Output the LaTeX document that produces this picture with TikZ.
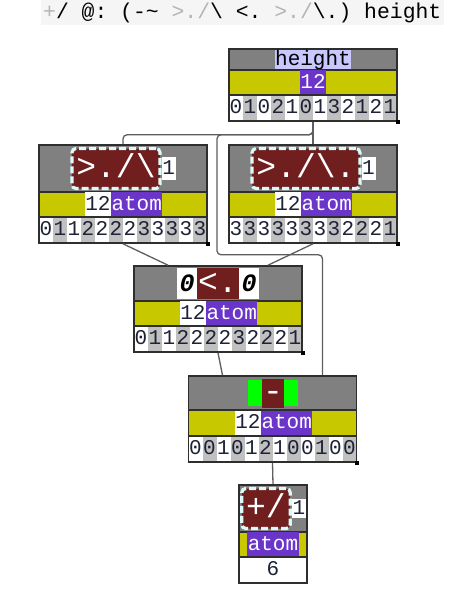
\documentclass[tikz,border=0pt]{standalone}
\usepackage{fontspec}
\setmonofont{Liberation Mono}
\usetikzlibrary{positioning}

\definecolor{rowgray}{HTML}{808080}
\definecolor{rowyellow}{HTML}{C8C800}
\definecolor{atomviolet}{HTML}{6A35C8}
\definecolor{maroon}{HTML}{701E1E}
\definecolor{lavender}{HTML}{C8C8FF}
\definecolor{stripe}{HTML}{C0C0C0}
\definecolor{dashcyan}{HTML}{DCFAFA}
\definecolor{fillgreen}{HTML}{00FF00}
\definecolor{framec}{HTML}{2E2E2E}
\definecolor{wirec}{HTML}{5E5E5E}
\definecolor{ink}{HTML}{1E2236}
\definecolor{faint}{HTML}{B4B4B4}
\definecolor{codebg}{HTML}{F5F5F5}
\colorlet{shade0}{stripe}
\colorlet{shade1}{white}

\begin{document}
\begin{tikzpicture}[x=1pt, y=-1pt,
    rowbox/.style={draw=framec, line width=1.6pt, minimum width=168, inner sep=0},
    grayrow/.style={rowbox, fill=rowgray},
    yelrow/.style={rowbox, fill=rowyellow, minimum height=25},
    digitcell/.style={minimum width=14, minimum height=26, inner sep=0, outer sep=0, text=ink,
        text height=15, text depth=4.5, font=\ttfamily\fontsize{21}{21}\selectfont},
    texttag/.style={inner xsep=0.5, inner ysep=0, outer sep=0, text=ink,
        text height=15, text depth=4, font=\ttfamily\fontsize{21}{21}\selectfont},
    numtag/.style={texttag, fill=white, minimum height=25},
    atomtag/.style={texttag, fill=atomviolet, text=white, minimum height=25},
    ranktag/.style={texttag, fill=white, minimum width=14, minimum height=23},
    verbbox/.style={fill=maroon, text=white, draw=dashcyan, line width=3.2pt,
        dash pattern=on 7pt off 3pt, rounded corners=4, inner xsep=4.4, inner ysep=0,
        minimum height=40, text height=23, text depth=6,
        font=\ttfamily\fontsize{33}{33}\selectfont},
    flatverb/.style={fill=maroon, text=white, inner sep=0, outer sep=0,
        text height=23, text depth=6, font=\ttfamily\fontsize{33}{33}\selectfont},
    zerotag/.style={fill=white, text=black, inner sep=0, outer sep=0, minimum width=20,
        minimum height=31, font=\ttfamily\bfseries\itshape\fontsize{25}{25}\selectfont},
    greentag/.style={fill=fillgreen, minimum width=14, minimum height=26, inner sep=0, outer sep=0},
    cornerdot/.style={fill=black, minimum size=4, inner sep=0},
    wire/.style={draw=wirec, line width=1.3pt, rounded corners=4}]
\useasboundingbox (0,0) rectangle (472,600);

% the sentence
\node[fill=codebg, anchor=west, minimum height=25, inner xsep=2.3, inner ysep=0, text=black,
    font=\ttfamily\fontsize{21.4}{21.4}\selectfont] (code) at (40.7,12.5)
    {\textcolor{faint}{+}/ @: (-\textasciitilde{} \textcolor{faint}{>./}\textbackslash{} <. \textcolor{faint}{>./}\textbackslash.) height};

% height
\node[grayrow, minimum height=21] (h-top) at (313,59.5) {};
\node[texttag, fill=lavender, text=black, minimum height=19] (h-name) at (313,59.5) {height};
\node[yelrow] (h-mid) at (313,82.5) {};
\node[atomtag] (h-num) at (313,82.5) {12};
\foreach \d [count=\i] in {0,1,0,2,1,0,1,3,2,1,2,1} {
    \pgfmathtruncatemacro\s{mod(\i,2)}
    \node[digitcell, fill=shade\s] (h-\i) at ({222+14*\i},108) {\d};
}
\node[rowbox, minimum height=26] (h-bot) at (313,108) {};
\node[cornerdot] (h-end) at (h-bot.south east) {};

% >./\
\node[grayrow, minimum height=47] (fl-top) at (123,168.5) {};
\node[verbbox] (fl-verb) at (116,168.5) {>./\textbackslash};
\node[ranktag, anchor=west] (fl-rank) at (fl-verb.east) {1};
\node[yelrow] (fl-mid) at (123,204.5) {};
\node[numtag, anchor=east] (fl-num) at (111,204.5) {12};
\node[atomtag, anchor=west] (fl-atom) at (fl-num.east) {atom};
\foreach \d [count=\i] in {0,1,1,2,2,2,2,3,3,3,3,3} {
    \pgfmathtruncatemacro\s{mod(\i,2)}
    \node[digitcell, fill=shade\s] (fl-\i) at ({32+14*\i},230) {\d};
}
\node[rowbox, minimum height=26] (fl-bot) at (123,230) {};
\node[cornerdot] (fl-end) at (fl-bot.south east) {};

% >./\.
\node[grayrow, minimum height=47] (fr-top) at (313,168.5) {};
\node[verbbox] (fr-verb) at (306,168.5) {>./\textbackslash.};
\node[ranktag, anchor=west] (fr-rank) at (fr-verb.east) {1};
\node[yelrow] (fr-mid) at (313,204.5) {};
\node[numtag, anchor=east] (fr-num) at (301,204.5) {12};
\node[atomtag, anchor=west] (fr-atom) at (fr-num.east) {atom};
\foreach \d [count=\i] in {3,3,3,3,3,3,3,3,2,2,2,1} {
    \pgfmathtruncatemacro\s{mod(\i,2)}
    \node[digitcell, fill=shade\s] (fr-\i) at ({222+14*\i},230) {\d};
}
\node[rowbox, minimum height=26] (fr-bot) at (313,230) {};
\node[cornerdot] (fr-end) at (fr-bot.south east) {};

% 0<.0
\node[grayrow, minimum height=35] (lt-top) at (218,283.5) {};
\node[flatverb, minimum width=42, minimum height=31] (lt-verb) at (218,283.5) {<.};
\node[zerotag, anchor=east] (lt-left) at (lt-verb.west) {0};
\node[zerotag, anchor=west] (lt-right) at (lt-verb.east) {0};
\node[yelrow] (lt-mid) at (218,313.5) {};
\node[numtag, anchor=east] (lt-num) at (206,313.5) {12};
\node[atomtag, anchor=west] (lt-atom) at (lt-num.east) {atom};
\foreach \d [count=\i] in {0,1,1,2,2,2,2,3,2,2,2,1} {
    \pgfmathtruncatemacro\s{mod(\i,2)}
    \node[digitcell, fill=shade\s] (lt-\i) at ({127+14*\i},339) {\d};
}
\node[rowbox, minimum height=26] (lt-bot) at (218,339) {};
\node[cornerdot] (lt-end) at (lt-bot.south east) {};

% -
\node[grayrow, minimum height=34] (mn-top) at (272.5,393) {};
\node[flatverb, minimum width=22, minimum height=26] (mn-verb) at (273,393) {-};
\node[greentag, anchor=east] (mn-left) at (mn-verb.west) {};
\node[greentag, anchor=west] (mn-right) at (mn-verb.east) {};
\node[yelrow, minimum height=26] (mn-mid) at (272.5,423) {};
\node[numtag, anchor=east] (mn-num) at (261,423) {12};
\node[atomtag, anchor=west] (mn-atom) at (mn-num.east) {atom};
\foreach \d [count=\i] in {0,0,1,0,1,2,1,0,0,1,0,0} {
    \pgfmathtruncatemacro\s{mod(\i,2)}
    \node[digitcell, fill=shade\s] (mn-\i) at ({181.5+14*\i},449) {\d};
}
\node[rowbox, minimum height=26] (mn-bot) at (272.5,449) {};
\node[cornerdot] (mn-end) at (mn-bot.south east) {};

% +/
\node[grayrow, minimum width=68, minimum height=47] (sm-top) at (273,508.5) {};
\node[verbbox] (sm-verb) at (266,508.5) {+/};
\node[ranktag, anchor=west, minimum height=18] (sm-rank) at (sm-verb.east) {1};
\node[yelrow, minimum width=68] (sm-mid) at (273,544.5) {};
\node[atomtag] (sm-atom) at (273,544.5) {atom};
\node[rowbox, minimum width=68, minimum height=26, fill=white] (sm-bot) at (273,570) {};
\node[digitcell] (sm-val) at (273,570) {6};

% wires
\draw[wire] (h-bot.south) -- (fr-top.north);
\draw[wire] (h-bot.south) -- ++(0,13) -| (fl-top.north);
\draw[wire] (h-bot.south) -- ++(0,13) -| ++(-96,120) -| ([xshift=50pt]mn-top.north);
\draw[wire] (fl-bot.south) -- ([xshift=-50pt]lt-top.north);
\draw[wire] (fr-bot.south) -- ([xshift=50pt]lt-top.north);
\draw[wire] (lt-bot.south) -- ([xshift=-50pt]mn-top.north);
\draw[wire] (mn-bot.south) -- (sm-top.north);
\end{tikzpicture}
\end{document}
